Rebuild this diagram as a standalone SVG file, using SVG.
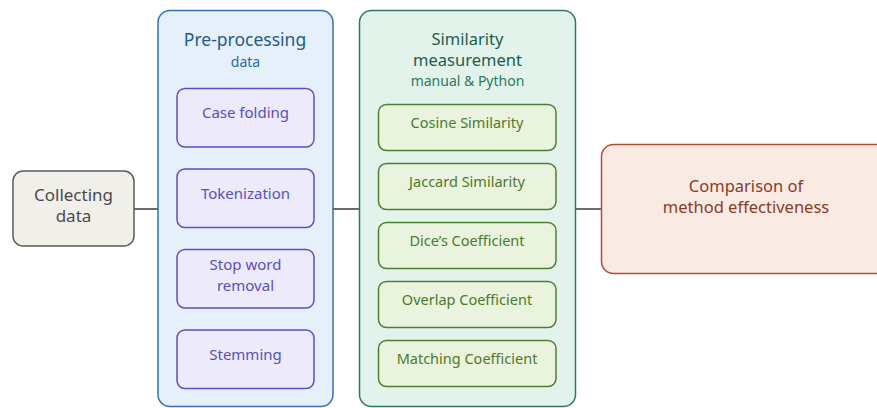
<svg xmlns="http://www.w3.org/2000/svg" width="877" height="408" viewBox="0 0 877 408">
  <style>
    text { font-family: "Noto Sans", "Open Sans", sans-serif; text-anchor: middle; }
    .conn { stroke: #6b6b6b; stroke-width: 2; fill: none; }
    .grey { fill: #f1efe9; stroke: #5b5b5b; stroke-width: 1.5; }
    .grey-t { fill: #4a4a4a; font-size: 17px; }
    .blue { fill: #e6f0fb; stroke: #2f72b5; stroke-width: 1.5; }
    .blue-t { fill: #1f5b8c; font-size: 17.5px; }
    .blue-s { fill: #2a6aa8; font-size: 14px; }
    .purple { fill: #eceafb; stroke: #5a50c0; stroke-width: 1.5; }
    .purple-t { fill: #5a4fbf; font-size: 15px; }
    .teal { fill: #e2f3ec; stroke: #2e7a5f; stroke-width: 1.5; }
    .teal-t { fill: #1e5e49; font-size: 16.5px; }
    .teal-s { fill: #2b7a5d; font-size: 14px; }
    .green { fill: #e9f3de; stroke: #4f7f2c; stroke-width: 1.5; }
    .green-t { fill: #4b7b2b; font-size: 14.5px; }
    .red { fill: #f9eae4; stroke: #b34d31; stroke-width: 1.5; }
    .red-t { fill: #8c3b23; font-size: 16.5px; }
  </style>

  <!-- connectors -->
  <g id="connectors">
    <line class="conn" x1="134" y1="209" x2="158" y2="209"/>
    <line class="conn" x1="333" y1="209" x2="359" y2="209"/>
    <line class="conn" x1="575" y1="209" x2="601" y2="209"/>
    <line class="conn" x1="245.5" y1="147" x2="245.5" y2="169"/>
    <line class="conn" x1="245.5" y1="228" x2="245.5" y2="249"/>
    <line class="conn" x1="245.5" y1="308" x2="245.5" y2="330"/>
  </g>

  <g id="collecting">
    <rect class="grey" x="13" y="171" width="121" height="75" rx="10"/>
    <text class="grey-t" x="73.5" y="200.5">Collecting</text>
    <text class="grey-t" x="73.5" y="222">data</text>
  </g>

  <g id="preprocessing">
    <rect class="blue" x="158" y="10.5" width="175" height="396" rx="12"/>
    <text class="blue-t" x="245" y="46">Pre-processing</text>
    <text class="blue-s" x="245.5" y="67">data</text>
  </g>
  <g id="case-folding">
    <rect class="purple" x="177" y="88.5" width="137" height="58.5" rx="8"/>
    <text class="purple-t" x="245.5" y="118">Case folding</text>
  </g>
  <g id="tokenization">
    <rect class="purple" x="177" y="169" width="137" height="58.5" rx="8"/>
    <text class="purple-t" x="245.5" y="199">Tokenization</text>
  </g>
  <g id="stop-word-removal">
    <rect class="purple" x="177" y="249.5" width="137" height="58.5" rx="8"/>
    <text class="purple-t" x="245.5" y="270">Stop word</text>
    <text class="purple-t" x="245.5" y="290.5">removal</text>
  </g>
  <g id="stemming">
    <rect class="purple" x="177" y="330" width="137" height="58.5" rx="8"/>
    <text class="purple-t" x="245.5" y="360">Stemming</text>
  </g>

  <g id="similarity">
    <rect class="teal" x="359.5" y="10.5" width="216" height="396" rx="12"/>
    <text class="teal-t" x="467.5" y="44.5">Similarity</text>
    <text class="teal-t" x="467.5" y="65.5">measurement</text>
    <text class="teal-s" x="467.5" y="86">manual &amp; Python</text>
  </g>
  <g id="cosine">
    <rect class="green" x="378.5" y="104.5" width="177.5" height="46" rx="8"/>
    <text class="green-t" x="467" y="127.5">Cosine Similarity</text>
  </g>
  <g id="jaccard">
    <rect class="green" x="378.5" y="163.5" width="177.5" height="46" rx="8"/>
    <text class="green-t" x="467" y="186.5">Jaccard Similarity</text>
  </g>
  <g id="dice">
    <rect class="green" x="378.5" y="222.5" width="177.5" height="46" rx="8"/>
    <text class="green-t" x="467" y="245.5">Dice’s Coefficient</text>
  </g>
  <g id="overlap">
    <rect class="green" x="378.5" y="281.5" width="177.5" height="46" rx="8"/>
    <text class="green-t" x="467" y="304.5">Overlap Coefficient</text>
  </g>
  <g id="matching">
    <rect class="green" x="378.5" y="340.5" width="177.5" height="46" rx="8"/>
    <text class="green-t" x="467" y="363.5">Matching Coefficient</text>
  </g>

  <g id="comparison">
    <rect class="red" x="601.5" y="144.5" width="300" height="129" rx="12"/>
    <text class="red-t" x="746" y="192">Comparison of</text>
    <text class="red-t" x="746" y="213">method effectiveness</text>
  </g>
</svg>
